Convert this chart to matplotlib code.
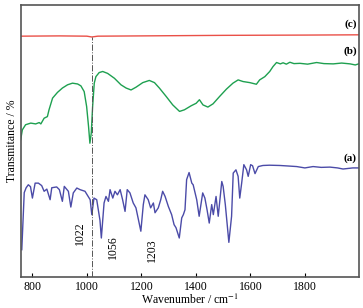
import matplotlib
matplotlib.use("Agg")
import matplotlib.pyplot as plt

plt.rcParams['font.family'] = ['Liberation Serif', 'DejaVu Serif']
plt.rcParams['mathtext.fontset'] = 'stix'

# ---- data ----
wn_a = [761, 770, 777, 785, 793, 800, 810, 822, 834, 843, 853, 865, 871, 889, 899, 910, 917, 932,
        941, 950, 963, 975, 993, 1012, 1018, 1026, 1036, 1048, 1053, 1063, 1070, 1079, 1085, 1095,
        1103, 1112, 1122, 1131, 1140, 1148, 1158, 1170, 1180, 1189, 1198, 1207, 1213, 1225, 1234,
        1244, 1250, 1262, 1271, 1278, 1287, 1299, 1311, 1320, 1327, 1339, 1348, 1354, 1360, 1366,
        1375, 1385, 1390, 1403, 1412, 1425, 1433, 1441, 1449, 1458, 1464, 1474, 1482, 1495, 1500,
        1508, 1516, 1521, 1531, 1537, 1547, 1555, 1561, 1568, 1576, 1586, 1592, 1601, 1608, 1617,
        1629, 1646, 1670, 1708, 1740, 1770, 1800, 1830, 1860, 1892, 1920, 1940, 1976, 2000]
t_a = [9.9, 30.9, 32.7, 33.8, 33.1, 28.9, 34.4, 34.4, 33.5, 31.4, 32.2, 28.3, 32.7, 33.0, 32.0,
       27.7, 33.2, 31.4, 25.6, 30.8, 32.6, 32.0, 31.4, 28.3, 22.8, 28.9, 28.3, 20.7, 14.2, 27.1,
       29.5, 27.7, 32.0, 28.9, 31.4, 30.1, 32.0, 28.3, 24.0, 32.0, 30.8, 27.1, 25.3, 21.0, 16.7,
       26.5, 30.1, 28.3, 25.3, 27.1, 23.5, 25.3, 28.3, 31.4, 29.5, 25.8, 22.8, 19.1, 18.0, 14.2,
       21.6, 22.8, 24.6, 35.7, 38.3, 34.4, 33.8, 28.3, 22.2, 30.8, 28.9, 24.6, 19.7, 26.5, 22.8,
       29.5, 22.2, 35.0, 33.2, 26.5, 18.0, 12.6, 22.2, 38.1, 39.3, 36.9, 28.9, 34.4, 41.2, 39.3,
       36.9, 41.2, 40.8, 37.9, 40.5, 40.9, 41.0, 40.9, 40.7, 40.5, 40.0, 40.5, 40.2, 40.3, 40.0,
       39.6, 40.0, 40.0]

wn_b = [757, 763, 775, 794, 812, 825, 831, 843, 855, 861, 874, 892, 910, 929, 947, 966, 978, 990,
        999, 1006, 1011, 1016, 1021, 1027, 1033, 1045, 1058, 1076, 1101, 1125, 1144, 1162, 1180,
        1205, 1229, 1248, 1266, 1291, 1315, 1340, 1358, 1383, 1401, 1413, 1426, 1444, 1463, 1487,
        1512, 1536, 1555, 1573, 1598, 1622, 1634, 1653, 1671, 1683, 1696, 1710, 1720, 1732, 1745,
        1760, 1782, 1810, 1843, 1870, 1904, 1935, 1966, 1985, 2000]
t_b = [50.4, 54.0, 55.9, 56.5, 56.2, 56.7, 56.2, 58.3, 58.9, 61.4, 65.7, 67.8, 69.4, 70.6, 71.2,
       70.9, 70.2, 68.1, 62.6, 55.3, 49.1, 52.8, 62.6, 71.2, 73.6, 75.1, 75.5, 74.8, 73.0, 70.6,
       69.4, 68.7, 69.7, 71.4, 72.2, 71.4, 69.4, 66.3, 63.2, 60.8, 61.4, 62.9, 63.8, 65.1, 63.2,
       62.4, 63.6, 66.3, 69.0, 71.2, 72.4, 71.8, 71.4, 70.8, 72.4, 73.6, 75.5, 77.3, 78.8, 78.3,
       78.7, 78.2, 78.9, 78.4, 78.5, 78.2, 78.8, 78.4, 78.3, 78.6, 78.3, 77.9, 78.4]

wn_c = [757, 900, 1000, 1018, 1040, 1200, 1500, 1800, 2000]
t_c = [88.5, 88.6, 88.5, 88.2, 88.5, 88.6, 88.8, 88.9, 89.0]

marker_wn = 1018
peak_labels = ['1022', '1056', '1203']
peak_label_wn = [975, 1096, 1238]
peak_label_t = [15.8, 10.7, 9.6]

curve_labels = ['(a)', '(b)', '(c)']
curve_label_t = [43.5, 82.8, 93.0]

xticks = [800, 1000, 1200, 1400, 1600, 1800]

# ---- figure ----
fig = plt.figure(figsize=(3.63, 3.08), dpi=100)
ax = fig.add_axes([0.057, 0.102, 0.933, 0.882])

ax.plot(wn_a, t_a, color='#4b4ba8', lw=1.0)
ax.plot(wn_b, t_b, color='#1ea050', lw=1.0)
ax.plot(wn_c, t_c, color='#ea5048', lw=1.0)

ax.plot([marker_wn, marker_wn], [0, t_c[3]], color='#555555', lw=0.7, ls='-.')

for s, x, y in zip(peak_labels, peak_label_wn, peak_label_t):
    ax.text(x, y, s, rotation=90, ha='center', va='center', fontsize=8.5)

for s, y in zip(curve_labels, curve_label_t):
    ax.text(1967, y, s, ha='center', va='center', fontsize=8, fontweight='bold')

ax.set_xlim(757, 2000)
ax.set_ylim(0, 100)
ax.set_xticks(xticks)
ax.set_yticks([])
ax.tick_params(axis='x', direction='in', length=3, width=0.8, labelsize=8.5, pad=3)
for sp in ax.spines.values():
    sp.set_color('#555555')
    sp.set_linewidth(1.2)

ax.set_xlabel('Wavenumber / cm$^{-1}$', fontsize=8.5, labelpad=0)
ax.set_ylabel('Transmitance / %', fontsize=8.5, labelpad=2)

fig.savefig('out.png', dpi=100)
